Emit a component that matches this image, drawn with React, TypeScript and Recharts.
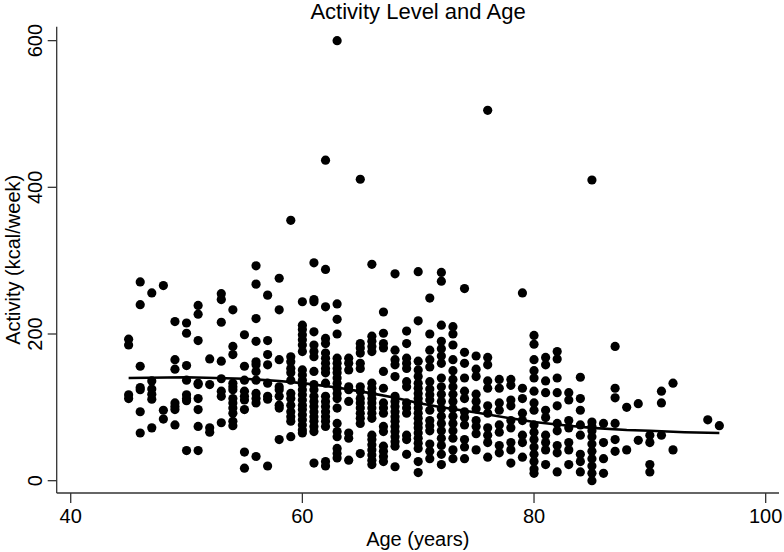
import React from 'react';
import { ScatterChart, Scatter, XAxis, YAxis, Label } from 'recharts';

const AGES = [45, 46, 47, 48, 49, 50, 51, 52, 53, 54, 55, 56, 57, 58, 59, 60, 61, 62, 63, 64, 65, 66, 67, 68, 69, 70,
  71, 72, 73, 74, 75, 76, 77, 78, 79, 80, 81, 82, 83, 84, 85, 86, 87, 88, 89, 90, 91, 92, 95, 96];

const ACTIVITY: number[][] = [
  [193, 185, 117, 112],
  [271, 240, 156, 127, 124, 94, 65],
  [256, 136, 125, 118, 111, 72],
  [266, 96, 84],
  [217, 165, 152, 106, 101, 97, 76],
  [215, 201, 157, 137, 117, 112, 109, 41],
  [239, 227, 191, 133, 131, 112, 97, 74, 41],
  [166, 131, 72, 66],
  [255, 247, 216, 163, 139, 122, 115, 79],
  [233, 183, 172, 133, 128, 124, 112, 106, 99, 92, 81, 75],
  [199, 156, 137, 122, 115, 110, 97, 39, 17],
  [293, 268, 221, 190, 162, 158, 149, 137, 119, 112, 106, 33],
  [253, 191, 172, 158, 133, 115, 111, 20],
  [276, 233, 165, 128, 124, 115, 103, 99, 56],
  [355, 169, 162, 153, 147, 137, 119, 112, 103, 94, 87, 81, 60],
  [244, 212, 206, 199, 192, 185, 176, 151, 144, 137, 131, 124, 117, 110, 103, 97, 90, 83, 76, 69, 65],
  [297, 247, 244, 203, 185, 176, 169, 149, 131, 124, 115, 108, 101, 94, 87, 81, 74, 67, 24],
  [437, 288, 237, 194, 187, 174, 167, 160, 153, 147, 133, 115, 108, 101, 94, 87, 81, 74, 26, 20],
  [600, 241, 220, 200, 167, 160, 153, 147, 140, 133, 126, 119, 112, 99, 78, 67, 60, 44, 37, 31],
  [167, 160, 151, 128, 124, 108, 65, 58, 28],
  [411, 187, 181, 174, 160, 153, 128, 122, 112, 106, 99, 92, 85, 78, 37],
  [295, 197, 190, 183, 176, 133, 126, 119, 112, 106, 99, 92, 85, 62, 56, 49, 42, 35, 28, 22],
  [230, 201, 187, 181, 149, 126, 106, 99, 92, 74, 67, 47, 40, 33, 26],
  [282, 178, 165, 158, 142, 115, 108, 101, 94, 87, 81, 74, 67, 60, 53, 47, 19],
  [204, 187, 167, 160, 153, 135, 128, 106, 99, 92, 62, 56, 36],
  [285, 218, 163, 151, 142, 133, 126, 119, 112, 106, 99, 92, 85, 78, 72, 65, 58, 51, 44, 26, 11],
  [249, 200, 178, 165, 155, 135, 125, 117, 110, 96, 82, 75, 68, 50, 40, 30],
  [284, 272, 212, 190, 180, 170, 160, 140, 128, 118, 108, 98, 88, 78, 68, 58, 48, 36, 22],
  [210, 200, 185, 165, 150, 138, 128, 118, 108, 98, 88, 78, 68, 58, 42, 30],
  [262, 175, 160, 140, 122, 112, 94, 86, 76, 56, 46, 30],
  [170, 152, 142, 118, 108, 98, 82, 74, 64, 42],
  [505, 168, 158, 136, 126, 102, 92, 72, 62, 52, 32],
  [138, 126, 106, 96, 76, 66, 48, 38],
  [138, 130, 110, 102, 82, 72, 52, 42, 24],
  [256, 126, 112, 92, 82, 62, 52, 32],
  [198, 186, 165, 150, 140, 122, 106, 96, 76, 66, 56, 46, 36, 26, 16, 10],
  [168, 158, 136, 120, 96, 86, 62, 52, 42, 22],
  [176, 166, 140, 120, 102, 78, 68, 48, 38, 12],
  [120, 110, 82, 72, 52, 42, 22],
  [141, 112, 96, 76, 62, 36, 26, 12],
  [410, 80, 74, 68, 60, 50, 40, 30, 20, 10, 0],
  [78, 52, 30, 10],
  [183, 126, 113, 78, 56, 40],
  [100, 42],
  [105, 55],
  [62, 52, 22, 12],
  [122, 106, 62],
  [133, 42],
  [83],
  [75],
];

const FIT_AGES = [45, 50, 55, 58, 60, 63, 66, 68, 70, 72, 75, 78, 80, 83, 85, 88, 90, 93, 96];
const FIT_VALUES = [140, 141, 139, 136, 133, 127, 119, 113, 106, 100, 93, 85, 80, 75, 72, 69, 68, 66, 65];

const X_TICKS = [40, 60, 80, 100];
const Y_TICKS = [0, 200, 400, 600];

const points = AGES.flatMap((age, i) => ACTIVITY[i].map((v) => ({ x: age, y: v })));
const fit = FIT_AGES.map((a, i) => ({ x: a, y: FIT_VALUES[i] }));

const FONT = '"Liberation Sans", Arial, Helvetica, sans-serif';

const Dot = (props: any) => <circle cx={props.cx} cy={props.cy} r={4.6} fill="#000" />;
const NoDot = () => <g />;

const YTick = (props: any) => {
  const { x, y, payload } = props;
  const bx = x - 3.7;
  return (
    <text x={bx} y={y} transform={`rotate(-90, ${bx}, ${y})`} textAnchor="middle" fontFamily={FONT} fontSize={20} fill="#000">
      {payload.value}
    </text>
  );
};

const XTick = (props: any) => {
  const { x, y, payload } = props;
  return (
    <text x={x} y={y + 20} textAnchor="middle" fontFamily={FONT} fontSize={20} fill="#000">
      {payload.value}
    </text>
  );
};

const YTitle = (props: any) => {
  const vb = props.viewBox;
  const cx = 20;
  const cy = vb.y + vb.height / 2;
  return (
    <text x={cx} y={cy} transform={`rotate(-90, ${cx}, ${cy})`} textAnchor="middle" fontFamily={FONT} fontSize={20} fill="#000">
      Activity (kcal/week)
    </text>
  );
};

const XTitle = (props: any) => {
  const vb = props.viewBox;
  return (
    <text x={vb.x + vb.width / 2} y={545.5} textAnchor="middle" fontFamily={FONT} fontSize={20} fill="#000">
      Age (years)
    </text>
  );
};

export default function App() {
  return (
    <div style={{ position: 'absolute', left: 0, top: 0, width: 784, height: 552, background: '#fff' }}>
      <div
        style={{
          position: 'absolute',
          left: 218,
          top: 1,
          width: 400,
          textAlign: 'center',
          fontFamily: FONT,
          fontSize: 22,
          lineHeight: '22px',
          whiteSpace: 'nowrap',
          color: '#000',
        }}
      >
        Activity Level and Age
      </div>
      <ScatterChart width={784} height={552} margin={{ top: 26.7, right: 5, bottom: 0, left: 0 }}>
        <XAxis
          type="number"
          dataKey="x"
          domain={[38.79, 101.15]}
          ticks={X_TICKS}
          allowDataOverflow
          tickSize={10}
          tickMargin={0}
          tick={<XTick />}
          axisLine={{ stroke: '#333', strokeWidth: 1.3 }}
          tickLine={{ stroke: '#333', strokeWidth: 1.3 }}
          height={59}
        >
          <Label content={<XTitle />} />
        </XAxis>
        <YAxis
          type="number"
          dataKey="y"
          domain={[-16.8, 619]}
          ticks={Y_TICKS}
          allowDataOverflow
          width={56.7}
          tickSize={9}
          tickMargin={2}
          tick={<YTick />}
          axisLine={{ stroke: '#333', strokeWidth: 1.3 }}
          tickLine={{ stroke: '#333', strokeWidth: 1.3 }}
        >
          <Label content={<YTitle />} />
        </YAxis>
        <Scatter data={points} shape={<Dot />} isAnimationActive={false} />
        <Scatter
          data={fit}
          shape={<NoDot />}
          line={{ stroke: '#000', strokeWidth: 2.6 }}
          lineType="joint"
          isAnimationActive={false}
        />
      </ScatterChart>
    </div>
  );
}
